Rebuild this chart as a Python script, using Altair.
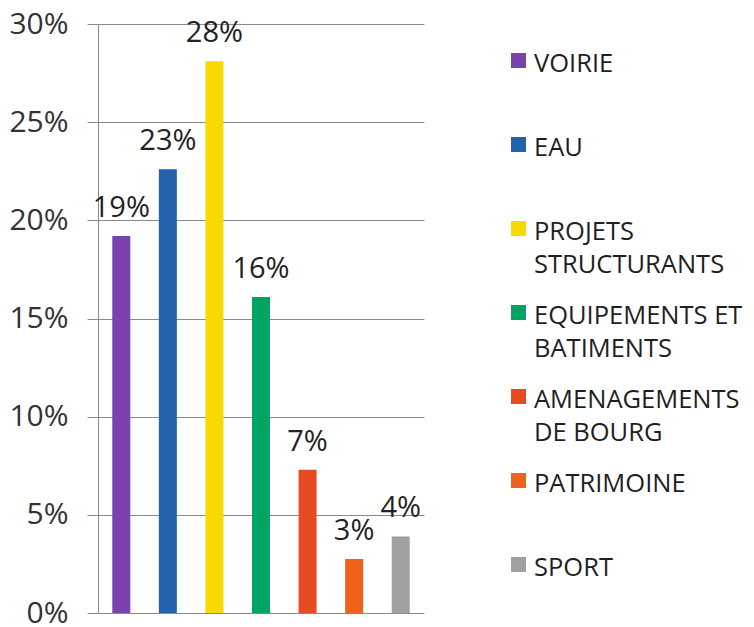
import altair as alt
import pandas as pd

categories = ["VOIRIE", "EAU", "PROJETS STRUCTURANTS", "EQUIPEMENTS ET BATIMENTS",
              "AMENAGEMENTS DE BOURG", "PATRIMOINE", "SPORT"]
legend_labels = ["VOIRIE", "EAU", "PROJETS\nSTRUCTURANTS", "EQUIPEMENTS ET\nBATIMENTS",
                 "AMENAGEMENTS\nDE BOURG", "PATRIMOINE", "SPORT"]
shares = [0.192, 0.226, 0.281, 0.161, 0.073, 0.0275, 0.039]
colors = ["#7A42AD", "#2562AC", "#F7DA00", "#00A464", "#E84B22", "#EF621E", "#A0A0A0"]
y_ticks = [0, 0.05, 0.10, 0.15, 0.20, 0.25, 0.30]

df = pd.DataFrame({
    "cat": categories,
    "share": shares,
    "legend": legend_labels,
    "idx": list(range(len(categories))),
})

FONT = "Open Sans"
GRID = "#8a8a8a"

color = alt.Color("cat:N", scale=alt.Scale(domain=categories, range=colors), legend=None)

x = alt.X("cat:N", sort=categories, axis=None,
          scale=alt.Scale(paddingInner=0, paddingOuter=0))
y = alt.Y("share:Q",
          scale=alt.Scale(domain=[0, 0.3], nice=False),
          axis=alt.Axis(values=y_ticks, format=".0%", title=None,
                        grid=True, gridColor=GRID, gridWidth=1,
                        domainColor=GRID, domainWidth=1,
                        tickColor=GRID, tickSize=11, tickWidth=1,
                        labelFont=FONT, labelFontSize=30, labelColor="#333333",
                        labelPadding=19))

bars = alt.Chart(df).mark_bar(size=18).encode(x=x, y=y, color=color)
labels = alt.Chart(df).mark_text(
    baseline="bottom", dy=-13, font=FONT, fontSize=29, color="#222222"
).encode(x=x, y=y, text=alt.Text("share:Q", format=".0%"))

bar_chart = alt.layer(bars, labels).properties(width=326, height=589)

ly = alt.Y("idx:Q", axis=None,
           scale=alt.Scale(domain=[-36.5 / 84, (589 - 36.5) / 84], reverse=True, nice=False, zero=False))

leg_sym = alt.Chart(df).mark_square(size=225, opacity=1).encode(
    x=alt.value(94.5), y=ly, color=color)
leg_txt = alt.Chart(df).mark_text(
    align="left", baseline="top", dy=-9, lineBreak="\n", lineHeight=33,
    font=FONT, fontSize=25.5, color="#1f1f1f"
).encode(x=alt.value(110), y=ly, text="legend:N")

legend_chart = alt.layer(leg_sym, leg_txt).properties(width=318, height=589)

chart = alt.hconcat(bar_chart, legend_chart, spacing=0).properties(
    padding={"left": 0, "top": 1, "right": 0, "bottom": 0}
).configure_view(stroke=None)

chart.save("out.html", embed_options={"renderer": "svg", "actions": False})
